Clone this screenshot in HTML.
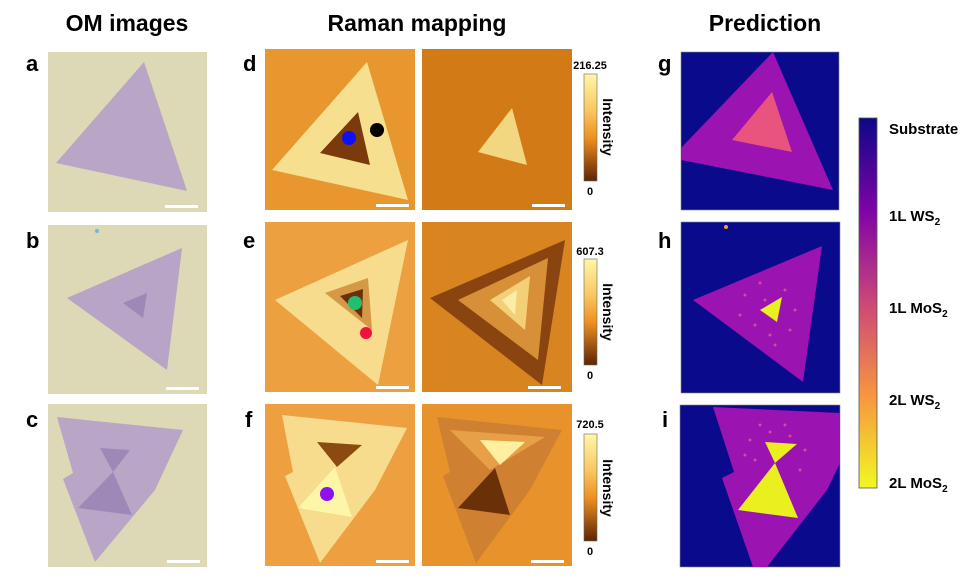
<!DOCTYPE html>
<html><head><meta charset="utf-8"><style>
html,body{margin:0;padding:0;background:#fff;}
svg{display:block;font-family:"Liberation Sans",Arial,sans-serif;}
</style></head><body>
<svg width="969" height="586" viewBox="0 0 969 586" xmlns="http://www.w3.org/2000/svg">
<defs>
<linearGradient id="rm" x1="0" y1="0" x2="0" y2="1">
<stop offset="0" stop-color="#fff7a8"/><stop offset="0.35" stop-color="#f9c560"/><stop offset="0.6" stop-color="#ee9020"/><stop offset="1" stop-color="#5e2404"/></linearGradient>
<linearGradient id="pl" x1="0" y1="0" x2="0" y2="1">
<stop offset="0" stop-color="#0d0887"/><stop offset="0.25" stop-color="#7e03a8"/><stop offset="0.5" stop-color="#cc4778"/><stop offset="0.75" stop-color="#f89540"/><stop offset="1" stop-color="#f0f921"/></linearGradient>
</defs>
<g font-weight="bold" font-size="23" text-anchor="middle" fill="#000">
<text x="127" y="31">OM images</text><text x="417" y="31">Raman mapping</text><text x="765" y="31">Prediction</text>
</g>
<g font-weight="bold" font-size="22" fill="#000">
<text x="26" y="71">a</text><text x="26" y="248">b</text><text x="26" y="427">c</text>
<text x="243" y="71">d</text><text x="243" y="248">e</text><text x="245" y="427">f</text>
<text x="658" y="71">g</text><text x="658" y="248">h</text><text x="662" y="427">i</text>
</g>
<!-- OM a -->
<rect x="48" y="52" width="159" height="160" fill="#ddd8b6"/>
<polygon points="144,62 56,163 187,191" fill="#b9a6c6"/>
<rect x="165" y="205" width="33" height="3" fill="#fff"/>
<!-- OM b -->
<rect x="48" y="225" width="159" height="169" fill="#ddd8b6"/>
<polygon points="182,248 67,298 167,370" fill="#b7a4c6"/>
<polygon points="123,303 147,293 143,318" fill="#9e88b8"/>
<circle cx="97" cy="231" r="2" fill="#6fb8d8"/>
<rect x="166" y="387" width="33" height="3" fill="#fff"/>
<!-- OM c -->
<rect x="48" y="404" width="159" height="163" fill="#ddd8b6"/>
<polygon points="57,417 183,430 155,490 95,562 63,479 73,473" fill="#b9a6c6"/>
<polygon points="100,448 130,450 113,472" fill="#9e88b8"/>
<polygon points="113,472 78,508 132,515" fill="#9e88b8"/>
<rect x="167" y="560" width="33" height="3" fill="#fff"/>
<!-- Raman d -->
<rect x="265" y="49" width="150" height="161" fill="#e8962e"/>
<polygon points="367,62 272,170 408,200" fill="#f6df8e"/>
<polygon points="358,112 320,153 370,165" fill="#7a3a0c"/>
<circle cx="349" cy="138" r="7" fill="#1010f0"/>
<circle cx="377" cy="130" r="7" fill="#000"/>
<rect x="376" y="204" width="33" height="3" fill="#fff"/>
<rect x="422" y="49" width="150" height="161" fill="#d27a16"/>
<polygon points="512,108 478,152 527,165" fill="#f3d680"/>
<rect x="532" y="204" width="33" height="3" fill="#fff"/>
<rect x="584" y="74" width="13" height="107" fill="url(#rm)" stroke="#666" stroke-width="0.6"/>
<text x="590" y="69" font-size="11" font-weight="bold" text-anchor="middle">216.25</text>
<text x="590" y="195" font-size="11" font-weight="bold" text-anchor="middle">0</text>
<text transform="translate(603,127) rotate(90)" font-size="14" font-weight="bold" text-anchor="middle">Intensity</text>
<!-- Raman e -->
<rect x="265" y="222" width="150" height="170" fill="#eca040"/>
<polygon points="408,240 275,300 378,385" fill="#f6dc8c"/>
<polygon points="325,293 368,278 372,330" fill="#c77a2a" opacity="0.7"/>
<polygon points="340,296 363,289 362,318" fill="#6a300a"/>
<circle cx="355" cy="303" r="7" fill="#20c070"/>
<circle cx="366" cy="333" r="6" fill="#f01040"/>
<rect x="376" y="386" width="33" height="3" fill="#fff"/>
<rect x="422" y="222" width="150" height="170" fill="#d88420"/>
<polygon points="565,240 430,298 542,385" fill="#8a4410"/>
<polygon points="548,258 458,300 538,360" fill="#d89038"/>
<polygon points="530,276 490,300 525,330" fill="#f3d078"/>
<polygon points="517,290 502,300 515,315" fill="#fdeca8"/>
<rect x="528" y="386" width="33" height="3" fill="#fff"/>
<rect x="584" y="259" width="13" height="106" fill="url(#rm)" stroke="#666" stroke-width="0.6"/>
<text x="590" y="255" font-size="11" font-weight="bold" text-anchor="middle">607.3</text>
<text x="590" y="379" font-size="11" font-weight="bold" text-anchor="middle">0</text>
<text transform="translate(603,312) rotate(90)" font-size="14" font-weight="bold" text-anchor="middle">Intensity</text>
<!-- Raman f -->
<rect x="265" y="404" width="150" height="162" fill="#eea040"/>
<polygon points="282,415 407,428 375,490 320,563 285,476 293,472" fill="#f6dc8c"/>
<polygon points="317,442 362,445 337,467" fill="#8a4a10"/>
<polygon points="335,467 298,508 352,517" fill="#fdf6a8"/>
<circle cx="327" cy="494" r="7" fill="#9010f0"/>
<rect x="376" y="560" width="33" height="3" fill="#fff"/>
<rect x="422" y="404" width="150" height="162" fill="#e8922c"/>
<polygon points="437,417 562,430 530,490 476,563 443,476 450,472" fill="#cf8030"/>
<polygon points="450,430 545,437 490,470" fill="#e8a048"/>
<polygon points="480,440 525,442 500,465" fill="#fff0a0"/>
<polygon points="495,468 458,508 510,515" fill="#6a3008"/>
<rect x="531" y="560" width="33" height="3" fill="#fff"/>
<rect x="584" y="434" width="13" height="107" fill="url(#rm)" stroke="#666" stroke-width="0.6"/>
<text x="590" y="428" font-size="11" font-weight="bold" text-anchor="middle">720.5</text>
<text x="590" y="555" font-size="11" font-weight="bold" text-anchor="middle">0</text>
<text transform="translate(603,488) rotate(90)" font-size="14" font-weight="bold" text-anchor="middle">Intensity</text>
<!-- Prediction g -->
<rect x="681" y="52" width="158" height="158" fill="#0a0a8c" stroke="#888" stroke-width="0.6"/>
<polygon points="773,52 681,148 681,160 833,190" fill="#9b13b0"/>
<polygon points="772,92 732,140 792,152" fill="#e8547e"/>
<!-- h -->
<rect x="681" y="222" width="159" height="171" fill="#0a0a8c" stroke="#888" stroke-width="0.6"/>
<polygon points="822,246 693,300 803,382" fill="#9b13b0"/>
<g fill="#e05a90" opacity="0.8">
<circle cx="745" cy="295" r="1.5"/><circle cx="755" cy="325" r="1.5"/><circle cx="770" cy="335" r="1.5"/><circle cx="790" cy="330" r="1.5"/><circle cx="760" cy="283" r="1.5"/><circle cx="785" cy="290" r="1.5"/><circle cx="775" cy="345" r="1.5"/><circle cx="740" cy="315" r="1.5"/><circle cx="795" cy="310" r="1.5"/><circle cx="765" cy="300" r="1.5"/>
</g>
<polygon points="760,310 782,297 777,322" fill="#eaf020"/>
<circle cx="726" cy="227" r="2" fill="#f0a030"/>
<!-- i -->
<rect x="680" y="405" width="160" height="162" fill="#0a0a8c" stroke="#888" stroke-width="0.6"/>
<polygon points="713,407 840,413 840,463 827,490 767,567 753,567 722,478 734,472" fill="#9b13b0"/>
<g fill="#e05a90" opacity="0.8">
<circle cx="750" cy="440" r="1.5"/><circle cx="770" cy="432" r="1.5"/><circle cx="790" cy="436" r="1.5"/><circle cx="805" cy="450" r="1.5"/><circle cx="755" cy="460" r="1.5"/><circle cx="800" cy="470" r="1.5"/><circle cx="760" cy="425" r="1.5"/><circle cx="785" cy="425" r="1.5"/><circle cx="745" cy="455" r="1.5"/>
</g>
<polygon points="765,442 797,444 775,463" fill="#eaf020"/>
<polygon points="775,463 738,510 798,518" fill="#eaf020"/>
<!-- plasma colorbar -->
<rect x="859" y="118" width="18" height="370" fill="url(#pl)" stroke="#555" stroke-width="0.8"/>
<g font-size="15" font-weight="bold">
<text x="889" y="134">Substrate</text>
<text x="889" y="221">1L WS<tspan font-size="10" dy="4">2</tspan></text>
<text x="889" y="313">1L MoS<tspan font-size="10" dy="4">2</tspan></text>
<text x="889" y="405">2L WS<tspan font-size="10" dy="4">2</tspan></text>
<text x="889" y="488">2L MoS<tspan font-size="10" dy="4">2</tspan></text>
</g>
</svg>
</body></html>
